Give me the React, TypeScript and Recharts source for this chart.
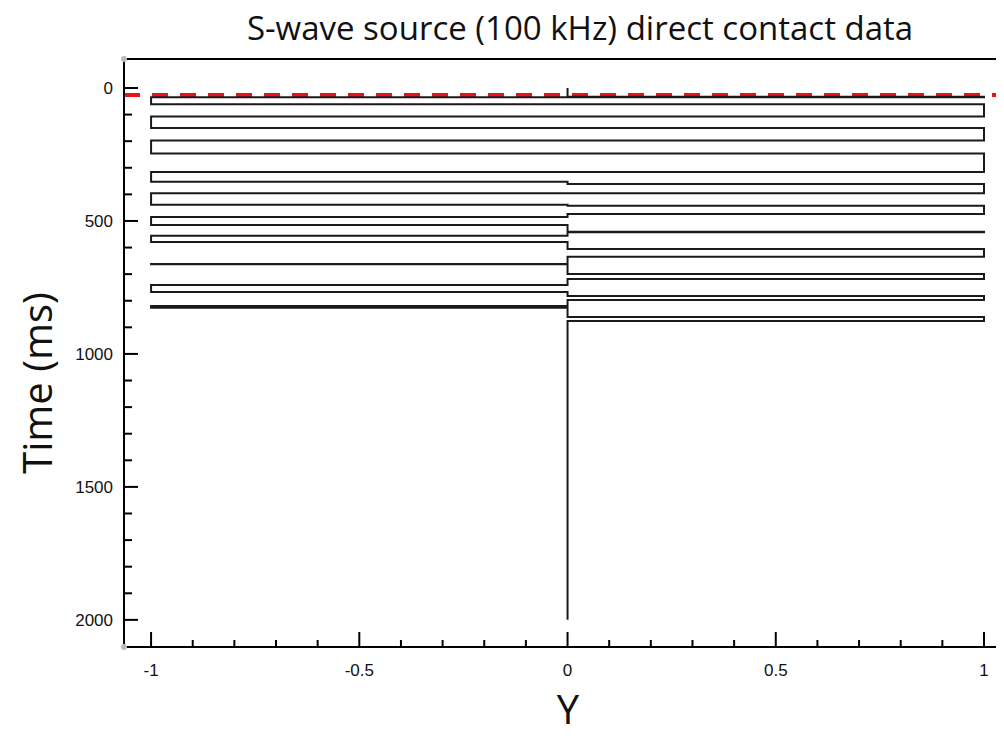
import React from "react"
import {
  ScatterChart,
  Scatter,
  XAxis,
  YAxis,
  ReferenceLine,
  ReferenceDot
} from "recharts"

const traceTime = [
  0, 33, 33, 35, 35, 61, 61, 107, 107, 150, 150, 197, 197, 246, 246, 316, 316,
  353, 353, 361, 361, 396, 396, 439, 439, 443, 443, 474, 474, 485, 485, 515, 515,
  541, 541, 542, 542, 556, 556, 579, 579, 605, 605, 635, 635, 662, 662, 663, 663,
  699, 699, 718, 718, 741, 741, 767, 767, 782, 782, 797, 797, 820, 820, 826, 826,
  861, 861, 876, 876, 2000
]
const traceLevel = [
  0, 0, 1, 1, -1, -1, 1, 1, -1, -1, 1, 1, -1, -1, 1, 1, -1,
  -1, 0, 0, 1, 1, -1, -1, 0, 0, 1, 1, 0, 0, -1, -1, 0,
  0, 1, 1, 0, 0, -1, -1, 0, 0, 1, 1, 0, 0, -1, -1, 0,
  0, 1, 1, 0, 0, -1, -1, 0, 0, 1, 1, 0, 0, -1, -1, 0,
  0, 1, 1, 0, 0
]

// red dashed marker (first arrival)
const markerTime = 26

const timeTicks = [
  0, 100, 200, 300, 400, 500, 600, 700, 800, 900, 1000, 1100, 1200, 1300, 1400,
  1500, 1600, 1700, 1800, 1900, 2000
]
const timeLabels = [0, 500, 1000, 1500, 2000]

const yTicks = [
  -1, -0.9, -0.8, -0.7, -0.6, -0.5, -0.4, -0.3, -0.2, -0.1, 0, 0.1, 0.2, 0.3,
  0.4, 0.5, 0.6, 0.7, 0.8, 0.9, 1
]
const yLabels = [-1, -0.5, 0, 0.5, 1]

const timeDomain = [-109, 2102]
const yDomain = [-1.065, 1.048]

const data = traceTime.map((t, i) => ({ t, v: traceLevel[i] }))

const tickFont = "'Liberation Sans', Arial, sans-serif"
const titleFont = "'Open Sans', 'Noto Sans', sans-serif"

function TimeTick(props: any) {
  const { x, y, payload } = props
  const major = timeLabels.includes(payload.value)
  return (
    <g>
      <line x1={x} x2={x + (major ? 14 : 8)} y1={y} y2={y} stroke="#000" strokeWidth={2} />
      {major && (
        <text x={x - 11} y={y} dy={6} textAnchor="end" fontSize={17} fontFamily={tickFont} fill="#111">
          {payload.value}
        </text>
      )}
    </g>
  )
}

function YTick(props: any) {
  const { x, y, payload } = props
  const major = yLabels.some((l) => Math.abs(l - payload.value) < 1e-6)
  return (
    <g>
      <line x1={x} x2={x} y1={y} y2={y - (major ? 15 : 7)} stroke="#000" strokeWidth={2} />
      {major && (
        <text x={x} y={y + 29} textAnchor="middle" fontSize={17} fontFamily={tickFont} fill="#111">
          {payload.value}
        </text>
      )}
    </g>
  )
}

export default function App() {
  return (
    <div style={{ position: "relative", width: 996, height: 728 }}>
      <div
        style={{
          position: "absolute",
          left: 0,
          width: 1144,
          top: -3,
          textAlign: "center",
          fontFamily: titleFont,
          fontSize: 33,
          color: "#111",
          whiteSpace: "nowrap"
        }}
      >
        S-wave source (100 kHz) direct contact data
      </div>

      <div
        style={{
          position: "absolute",
          left: 28,
          top: 375,
          transform: "translate(-50%, -50%) rotate(-90deg)",
          fontFamily: titleFont,
          fontSize: 40,
          color: "#111",
          whiteSpace: "nowrap"
        }}
      >
        Time (ms)
      </div>

      <div
        style={{
          position: "absolute",
          left: 560,
          top: 700,
          transform: "translate(-50%, -50%)",
          fontFamily: titleFont,
          fontSize: 40,
          color: "#111"
        }}
      >
        Y
      </div>

      <ScatterChart
        width={996}
        height={728}
        margin={{ top: 51, right: 0, bottom: 0, left: 0 }}
      >
        <XAxis
          type="number"
          dataKey="v"
          domain={yDomain}
          allowDataOverflow
          ticks={yTicks}
          interval={0}
          tick={<YTick />}
          tickLine={false}
          tickSize={0}
          tickMargin={0}
          height={89}
          axisLine={{ stroke: "#000", strokeWidth: 2 }}
        />
        <YAxis
          type="number"
          dataKey="t"
          reversed
          domain={timeDomain}
          allowDataOverflow
          ticks={timeTicks}
          interval={0}
          tick={<TimeTick />}
          tickLine={false}
          tickSize={0}
          tickMargin={0}
          width={116}
          axisLine={{ stroke: "#000", strokeWidth: 2 }}
        />

        <ReferenceLine y={timeDomain[0]} stroke="#000" strokeWidth={2} />

        <Scatter
          data={data}
          line={{ stroke: "#1a1a1a", strokeWidth: 2 }}
          lineType="joint"
          shape={() => <g />}
          isAnimationActive={false}
        />

        <ReferenceLine
          y={markerTime}
          stroke="#e8141c"
          strokeWidth={4}
          strokeDasharray="16 12"
        />

        <ReferenceDot x={yDomain[0]} y={timeDomain[0]} r={3} fill="#bbb" stroke="none" />
        <ReferenceDot x={yDomain[0]} y={timeDomain[1]} r={3} fill="#bbb" stroke="none" />
      </ScatterChart>
    </div>
  )
}
